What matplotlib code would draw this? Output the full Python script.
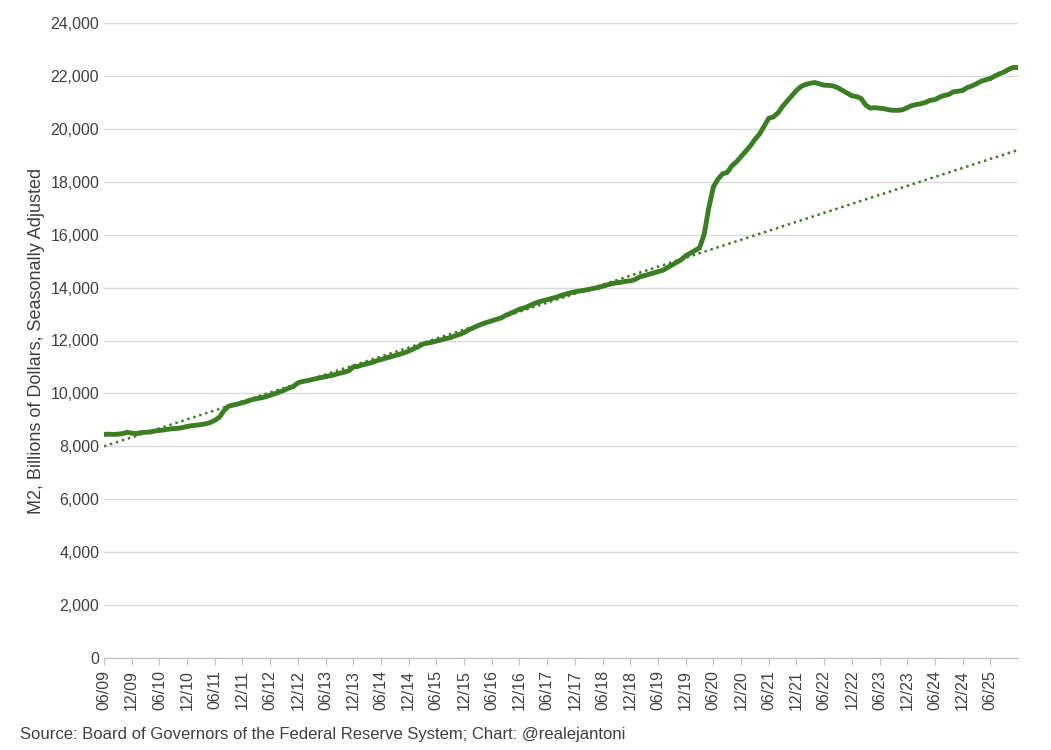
import numpy as np
import matplotlib.pyplot as plt
from matplotlib.ticker import FuncFormatter

# monthly M2, 06/2009 .. 12/2025 (billions)
m2_values = [
    8450, 8460, 8450, 8460, 8480, 8530, 8500,
    8480, 8520, 8530, 8540, 8580, 8600, 8620, 8650, 8670, 8680, 8710, 8750,
    8780, 8800, 8820, 8850, 8900, 8980, 9100, 9350, 9520, 9560, 9600, 9650,
    9700, 9760, 9800, 9830, 9870, 9930, 9990, 10050, 10120, 10200, 10260, 10400,
    10450, 10480, 10520, 10560, 10600, 10630, 10670, 10710, 10760, 10800, 10850, 11000,
    11020, 11080, 11120, 11170, 11230, 11280, 11330, 11380, 11430, 11480, 11530, 11600,
    11680, 11760, 11860, 11900, 11930, 11980, 12020, 12070, 12110, 12170, 12230, 12300,
    12400, 12480, 12560, 12630, 12690, 12740, 12800, 12850, 12950, 13020, 13100, 13180,
    13230, 13300, 13380, 13450, 13500, 13540, 13590, 13640, 13700, 13750, 13800, 13840,
    13870, 13900, 13930, 13970, 14000, 14050, 14100, 14150, 14180, 14200, 14240, 14250,
    14300, 14400, 14450, 14500, 14550, 14600, 14650, 14750, 14850, 14950, 15050, 15200,
    15300, 15400, 15500, 16000, 17000, 17800, 18100, 18300, 18350, 18600, 18750, 18950,
    19150, 19350, 19600, 19800, 20100, 20400, 20450, 20600, 20850, 21050, 21250, 21450,
    21600, 21680, 21720, 21750, 21700, 21650, 21640, 21620, 21550, 21450, 21350, 21250,
    21220, 21150, 20900, 20780, 20800, 20780, 20760, 20720, 20700, 20700, 20720, 20800,
    20880, 20920, 20950, 21000, 21080, 21100, 21200, 21260, 21300, 21400, 21420, 21450,
    21560, 21620, 21700, 21800, 21850, 21900, 22000, 22080, 22150, 22250, 22320, 22320,
]
trend_start, trend_end = 8000, 19200
tick_labels = [f"{'06' if i % 2 == 0 else '12'}/{9 + i // 2:02d}" for i in range(33)]

plt.rcParams['font.family'] = ['Liberation Sans', 'DejaVu Sans']
fig = plt.figure(figsize=(10.51, 7.5), dpi=100)
ax = fig.add_axes([104 / 1051, 92 / 750, 914 / 1051, 635 / 750])

x = np.arange(len(m2_values))
green = '#3b7d23'
ax.plot([x[0], x[-1]], [trend_start, trend_end], linestyle=(0, (1, 1.5)), color=green, linewidth=1.8)
ax.plot(x, m2_values, color=green, linewidth=3.5, solid_capstyle='round')

ax.set_xlim(0, len(m2_values) - 1)
ax.set_ylim(0, 24000)
ax.set_yticks(range(0, 24001, 2000))
ax.yaxis.set_major_formatter(FuncFormatter(lambda v, p: f"{int(v):,}"))
ax.set_xticks(range(0, 6 * len(tick_labels), 6))
ax.set_xticklabels(tick_labels, rotation=90)
ax.tick_params(axis='both', labelsize=11.5, colors='#404040', length=0)
ax.tick_params(axis='x', length=5, color='#bfbfbf', direction='out')
ax.grid(axis='y', color='#d9d9d9', linewidth=1)
ax.set_axisbelow(True)
for s in ['top', 'right', 'left']:
    ax.spines[s].set_visible(False)
ax.spines['bottom'].set_color('#bfbfbf')
ax.set_ylabel('M2, Billions of Dollars, Seasonally Adjusted', fontsize=13, color='#404040')

fig.text(20 / 1051, 1 - 735 / 750, 'Source: Board of Governors of the Federal Reserve System; Chart: @realejantoni',
         fontsize=12, color='#404040', va='center')

fig.savefig('out.png', dpi=100)
